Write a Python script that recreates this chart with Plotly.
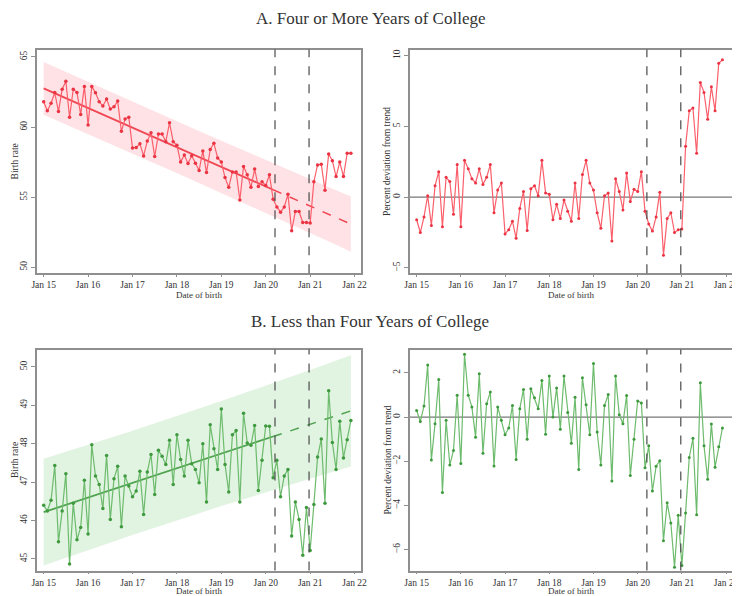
import numpy as np
import plotly.graph_objects as go

# ---------------- data ----------------
month_index = list(range(84))          # Jan 2015 ... Dec 2021
tick_months = [0, 12, 24, 36, 48, 60, 72, 84]
tick_labels = ["Jan 15", "Jan 16", "Jan 17", "Jan 18", "Jan 19", "Jan 20", "Jan 21", "Jan 22"]
event_months = [62.5, 71.7]            # dashed vertical markers
pre_period_end = 62                    # trend fitted on months before this index

college_rate = [
    61.8, 61.16, 61.7, 62.46, 61.1, 62.7, 63.27, 60.7, 62.7, 62.46, 60.9, 62.9,
    60.14, 62.9, 62.44, 61.8, 61.5, 62.0, 61.28, 61.45, 61.85, 59.7, 60.57, 60.7,
    58.5, 58.55, 58.8, 57.94, 59.0, 59.6, 57.9, 59.5, 59.5, 58.96, 60.3, 58.96,
    58.7, 57.5, 58.0, 57.4, 57.96, 57.42, 56.9, 58.3, 56.75, 58.4, 58.84, 57.8,
    57.5, 56.4, 55.7, 56.8, 56.8, 54.8, 57.18, 56.6, 55.7, 57.0, 55.76, 56.1,
    55.83, 56.6, 54.85, 54.3, 53.93, 54.3, 55.2, 52.6, 53.98, 53.98, 53.2, 53.2,
    53.15, 56.1, 57.3, 57.35, 55.5, 58.08, 57.6, 56.47, 57.5, 56.47, 58.13, 58.13,
]
college_dev = [
    -1.6, -2.5, -1.4, 0.1, -2.0, 0.8, 1.8, -2.1, 1.4, 1.1, -1.2, 2.3,
    -2.1, 2.6, 2.0, 1.3, 1.0, 2.0, 0.9, 1.4, 2.3, -1.1, 0.5, 1.0,
    -2.6, -2.3, -1.7, -2.9, -0.8, 0.4, -2.35, 0.6, 0.8, 0.1, 2.6, 0.3,
    0.2, -1.6, -0.5, -1.5, -0.2, -1.0, -1.7, 1.0, -1.5, 1.6, 2.6, 1.0,
    0.5, -1.1, -2.2, 0.1, 0.3, -3.1, 1.3, 0.4, -0.9, 1.7, -0.3, 0.55,
    0.4, 1.8, -1.0, -1.9, -2.4, -1.4, 0.35, -4.1, -1.5, -1.1, -2.5, -2.3,
    -2.25, 3.6, 6.1, 6.3, 3.1, 8.1, 7.4, 5.5, 7.8, 6.1, 9.45, 9.7,
]
noncollege_rate = [
    46.40, 46.25, 46.53, 47.43, 45.45, 46.25, 47.22, 44.87, 46.45, 45.5, 45.82, 47.05,
    45.65, 47.97, 47.16, 46.94, 46.31, 47.69, 46.03, 47.09, 47.41, 45.84, 47.16, 46.9,
    46.62, 46.77, 47.28, 46.16, 47.26, 47.72, 46.68, 47.83, 47.67, 47.46, 48.09, 46.94,
    48.23, 47.59, 47.16, 48.09, 47.48, 47.33, 46.98, 48.0, 46.48, 48.49, 47.87, 47.33,
    48.9, 47.46, 46.74, 48.23, 48.34, 46.48, 48.79, 48.02, 47.96, 48.47, 46.78, 47.57,
    48.46, 48.45, 47.11, 47.57, 46.62, 47.16, 47.33, 45.6, 46.48, 46.03, 45.1, 46.34,
    45.22, 46.42, 47.65, 48.12, 46.45, 49.38, 48.03, 47.33, 48.58, 47.63, 48.1, 48.6,
]
noncollege_dev = [
    0.3, -0.2, 0.5, 2.36, -1.95, -0.3, 1.7, -3.42, -0.15, -2.17, -1.52, 0.99,
    -2.1, 2.84, 0.99, 0.46, -0.91, 1.96, -1.64, 0.6, 1.14, -2.22, 0.46, -0.15,
    -0.8, -0.5, 0.52, -1.92, 0.38, 1.25, -1.0, 1.28, 0.87, 0.38, 1.66, -0.78,
    1.86, 0.0, 1.32, -0.55, 1.86, 0.21, -1.19, 0.9, -2.37, 1.78, 0.56, -0.8,
    2.43, -0.68, -2.17, 0.52, 1.02, -2.9, 1.86, 0.1, -0.3, 0.98, -2.65, -1.0,
    0.73, 0.64, -2.3, -1.3, -3.35, -2.23, -1.98, -5.6, -3.88, -4.8, -6.8, -4.45,
    -6.72, -4.34, -1.83, -0.96, -4.43, 1.55, -1.3, -2.82, -0.31, -2.27, -1.35, -0.5,
]

# ---------------- styling ----------------
PAGE_MARGIN = 8                      # default body margin of the html page
W, H = 740 - PAGE_MARGIN, 596 - PAGE_MARGIN
SERIF = "Liberation Serif, Times New Roman, serif"
RED_LINE = "#fb5f6b"
RED_MARK = "#eb3443"
RED_TREND = "#f04653"
RED_BAND = "rgba(255,110,125,0.20)"
GREEN_LINE = "#6dbb6d"
GREEN_MARK = "#3f9a3f"
GREEN_TREND = "#4fa34f"
GREEN_BAND = "rgba(120,200,120,0.22)"
FRAME = "#8f8f8f"
TXT = "#333333"


def px(v):
    """window pixel -> figure pixel"""
    return v - PAGE_MARGIN


# plot-area edges in window pixels (left, right) / (top, bottom)
LEFT_COL = (37, 360.5)
RIGHT_COL = (410, 732)
TOP_ROW = (49.5, 273.3)
BOT_ROW = (349.5, 570.5)

x_left = [px(LEFT_COL[0]) / W, px(LEFT_COL[1]) / W]
x_right = [px(RIGHT_COL[0]) / W, px(RIGHT_COL[1]) / W]
y_top = [1 - px(TOP_ROW[1]) / H, 1 - px(TOP_ROW[0]) / H]
y_bot = [1 - px(BOT_ROW[1]) / H, 1 - px(BOT_ROW[0]) / H]
x_range = [-1.8, 85.6]


def trend_fit(x, y, n_pre):
    x = np.asarray(x, float)
    y = np.asarray(y, float)
    xp, yp = x[:n_pre], y[:n_pre]
    b, a = np.polyfit(xp, yp, 1)
    yhat = a + b * x
    resid = yp - (a + b * xp)
    n = len(xp)
    s = np.sqrt(np.sum(resid ** 2) / (n - 2))
    sxx = np.sum((xp - xp.mean()) ** 2)
    se = s * np.sqrt(1 + 1 / n + (x - xp.mean()) ** 2 / sxx)
    return yhat, yhat - 1.96 * se, yhat + 1.96 * se


fig = go.Figure()


def add_rate_panel(axn, rate, line_c, mark_c, trend_c, band_c):
    xa, ya = ("x" if axn == 1 else f"x{axn}"), ("y" if axn == 1 else f"y{axn}")
    yhat, lo, hi = trend_fit(month_index, rate, pre_period_end)
    fig.add_trace(go.Scatter(x=month_index, y=lo, mode="lines", line=dict(width=0),
                             hoverinfo="skip", showlegend=False, xaxis=xa, yaxis=ya))
    fig.add_trace(go.Scatter(x=month_index, y=hi, mode="lines", line=dict(width=0),
                             fill="tonexty", fillcolor=band_c, hoverinfo="skip",
                             showlegend=False, xaxis=xa, yaxis=ya))
    k = pre_period_end
    fig.add_trace(go.Scatter(x=month_index[:k + 1], y=yhat[:k + 1], mode="lines",
                             line=dict(color=trend_c, width=1.8), showlegend=False,
                             xaxis=xa, yaxis=ya))
    fig.add_trace(go.Scatter(x=month_index[k:], y=yhat[k:], mode="lines",
                             line=dict(color=trend_c, width=1.5, dash="dash"),
                             showlegend=False, xaxis=xa, yaxis=ya))
    fig.add_trace(go.Scatter(x=month_index, y=rate, mode="lines+markers",
                             line=dict(color=line_c, width=1.2),
                             marker=dict(color=mark_c, size=3.5),
                             showlegend=False, xaxis=xa, yaxis=ya))


def add_dev_panel(axn, dev, line_c, mark_c):
    xa, ya = f"x{axn}", f"y{axn}"
    fig.add_shape(type="line", xref=xa, yref=ya, x0=x_range[0], x1=x_range[1], y0=0, y1=0,
                  line=dict(color="#777777", width=1.3), layer="below")
    fig.add_trace(go.Scatter(x=month_index, y=dev, mode="lines+markers",
                             line=dict(color=line_c, width=1.2),
                             marker=dict(color=mark_c, size=3),
                             showlegend=False, xaxis=xa, yaxis=ya))


add_rate_panel(1, college_rate, RED_LINE, RED_MARK, RED_TREND, RED_BAND)
add_dev_panel(2, college_dev, RED_LINE, RED_MARK)
add_rate_panel(3, noncollege_rate, GREEN_LINE, GREEN_MARK, GREEN_TREND, GREEN_BAND)
add_dev_panel(4, noncollege_dev, GREEN_LINE, GREEN_MARK)

for axn in (1, 2, 3, 4):
    xa = "x" if axn == 1 else f"x{axn}"
    ya = "y" if axn == 1 else f"y{axn}"
    for em in event_months:
        fig.add_shape(type="line", xref=xa, yref=ya + " domain",
                      x0=em, x1=em, y0=0, y1=1,
                      line=dict(color="#4a4a4a", width=1.2, dash="dash"))

tickfont = dict(family=SERIF, size=9.5, color=TXT)

common_x = dict(range=x_range, tickmode="array", tickvals=tick_months, ticktext=tick_labels,
                showline=True, mirror=True, linecolor=FRAME, linewidth=1.5,
                ticks="outside", ticklen=2, tickcolor=FRAME, showgrid=False, zeroline=False,
                tickfont=tickfont, automargin=False)
common_y = dict(showline=True, mirror=True, linecolor=FRAME, linewidth=1.5,
                ticks="outside", ticklen=4, tickcolor=FRAME, showgrid=False, zeroline=False,
                tickfont=tickfont, tickangle=-90, automargin=False)

layout_axes = {
    "xaxis": dict(common_x, domain=x_left, anchor="y"),
    "xaxis2": dict(common_x, domain=x_right, anchor="y2"),
    "xaxis3": dict(common_x, domain=x_left, anchor="y3"),
    "xaxis4": dict(common_x, domain=x_right, anchor="y4"),
    "yaxis": dict(common_y, domain=y_top, anchor="x", range=[49.57, 65.53],
                  tickvals=[50, 55, 60, 65]),
    "yaxis2": dict(common_y, domain=y_top, anchor="x2", range=[-5.38, 10.43],
                   tickvals=[-5, 0, 5, 10]),
    "yaxis3": dict(common_y, domain=y_bot, anchor="x3", range=[44.70, 50.45],
                   tickvals=[45, 46, 47, 48, 49, 50]),
    "yaxis4": dict(common_y, domain=y_bot, anchor="x4", range=[-6.95, 3.06],
                   tickvals=[-6, -4, -2, 0, 2]),
}


def paper_ann(text, wx, wy, size, angle=0):
    return dict(text=text, x=px(wx) / W, y=1 - px(wy) / H, xref="paper", yref="paper",
                showarrow=False, xanchor="center", yanchor="middle", textangle=angle,
                font=dict(family=SERIF, size=size, color=TXT))


annotations = [
    paper_ann("A. Four or More Years of College", 370, 18, 17),
    paper_ann("B. Less than Four Years of College", 370, 321, 17),
]
for col in (LEFT_COL, RIGHT_COL):
    cx = (col[0] + col[1]) / 2
    annotations.append(paper_ann("Date of birth", cx, TOP_ROW[1] + 21.5, 9))
    annotations.append(paper_ann("Date of birth", cx, 590.5, 9))
for row in (TOP_ROW, BOT_ROW):
    cy = (row[0] + row[1]) / 2
    annotations.append(paper_ann("Birth rate", 15, cy, 9.5, -90))
    annotations.append(paper_ann("Percent deviation from trend", 387.5, cy, 9.5, -90))

fig.update_layout(
    width=W, height=H,
    margin=dict(l=0, r=0, t=0, b=0),
    paper_bgcolor="white", plot_bgcolor="white",
    showlegend=False,
    annotations=annotations,
    **layout_axes,
)

fig.write_html("out.html")
